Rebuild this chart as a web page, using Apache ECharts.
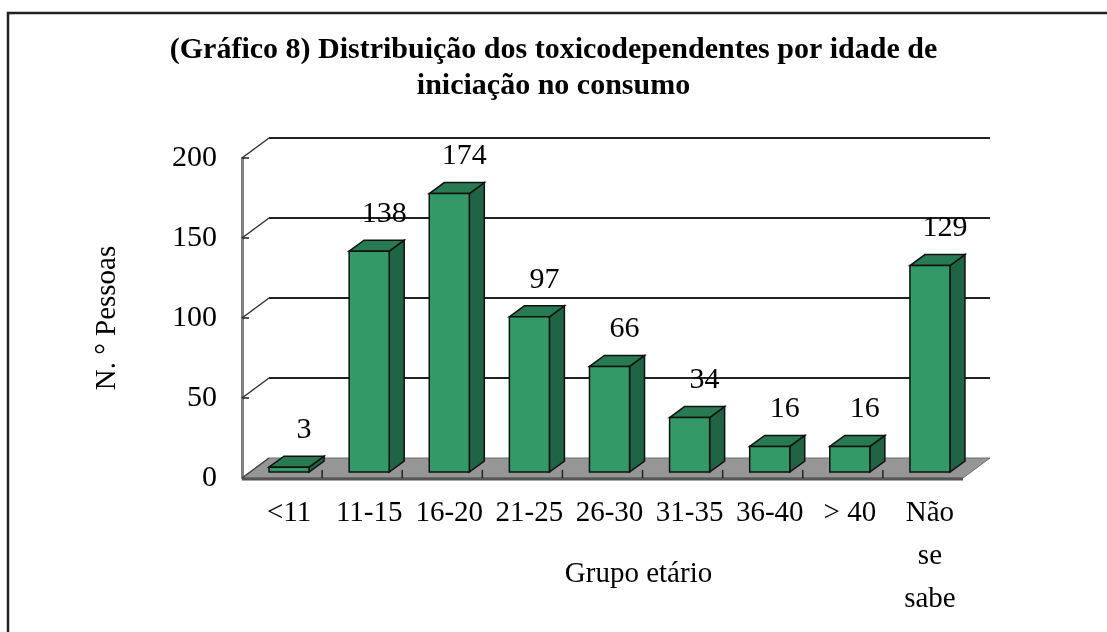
<!DOCTYPE html>
<html>
<head>
<meta charset="utf-8">
<script src="https://cdn.jsdelivr.net/npm/echarts@6/dist/echarts.min.js"></script>
<style>
  html, body { margin: 0; padding: 0; background: #fff; }
  #chart { width: 1107px; height: 632px; }
</style>
</head>
<body>
<div id="chart"></div>
<script>
// dados
var grupos = ['<11', '11-15', '16-20', '21-25', '26-30', '31-35', '36-40', '> 40', 'Não\nse\nsabe'];
var pessoas = [3, 138, 174, 97, 66, 34, 16, 16, 129];
var linhasGrelha = [50, 100, 150, 200];

var fonte = 'Liberation Serif';
// deslocamentos do efeito 3D (plano da frente / parede do fundo / profundidade da barra)
var FRENTE = [-7, 6];
var FUNDO = [20, -14];
var PROF = [15, -11];

var myChart = echarts.init(document.getElementById('chart'));

function chao(params, api) {
    var cs = params.coordSys;
    var y0 = api.coord([0, 0])[1];
    var xl = cs.x, xr = cs.x + cs.width;
    var pts = [
        [xl + FRENTE[0], y0 + FRENTE[1]],
        [xr + FRENTE[0], y0 + FRENTE[1]],
        [xr + FUNDO[0], y0 + FUNDO[1]],
        [xl + FUNDO[0], y0 + FUNDO[1]]
    ];
    var kids = [{
        type: 'polygon',
        shape: { points: pts },
        style: { fill: '#969696', stroke: '#6e6e6e', lineWidth: 1 }
    }, {
        type: 'line',
        shape: { x1: pts[0][0], y1: pts[0][1] + 1, x2: pts[1][0], y2: pts[1][1] + 1 },
        style: { stroke: '#555', lineWidth: 3 }
    }];
    // pequenas marcas entre categorias
    var band = cs.width / grupos.length;
    for (var i = 1; i < grupos.length; i++) {
        var x = xl + band * i + FRENTE[0];
        kids.push({
            type: 'line',
            shape: { x1: x, y1: y0 + FRENTE[1] - 8, x2: x, y2: y0 + FRENTE[1] },
            style: { stroke: '#222', lineWidth: 1.5 }
        });
    }
    // diagonal do zero
    kids.push({
        type: 'line',
        shape: { x1: pts[0][0], y1: pts[0][1], x2: pts[3][0], y2: pts[3][1] },
        style: { stroke: '#444', lineWidth: 1.5 }
    });
    return { type: 'group', children: kids };
}

function grelha(params, api) {
    var cs = params.coordSys;
    var v = api.value(0);
    var y = api.coord([0, v])[1];
    var xl = cs.x, xr = cs.x + cs.width;
    return {
        type: 'group',
        children: [{
            type: 'line',
            shape: { x1: xl + FUNDO[0], y1: y + FUNDO[1], x2: xr + FUNDO[0], y2: y + FUNDO[1] },
            style: { stroke: '#222', lineWidth: 2 }
        }, {
            type: 'line',
            shape: { x1: xl + FRENTE[0], y1: y + FRENTE[1], x2: xl + FUNDO[0], y2: y + FUNDO[1] },
            style: { stroke: '#333', lineWidth: 1.5 }
        }]
    };
}

function barra3d(params, api) {
    var i = api.value(0), v = api.value(1);
    var p = api.coord([i, v]);
    var p0 = api.coord([i, 0]);
    var w = api.size([1, 0])[0] * 0.5;
    var x = p[0] - w / 2, top = p[1], bot = p0[1];
    var dx = PROF[0], dy = PROF[1];
    return {
        type: 'group',
        children: [{
            type: 'polygon',
            shape: { points: [[x + w, top], [x + w + dx, top + dy], [x + w + dx, bot + dy], [x + w, bot]] },
            style: { fill: '#1f6443', stroke: '#111', lineWidth: 1.5 }
        }, {
            type: 'polygon',
            shape: { points: [[x, top], [x + dx, top + dy], [x + w + dx, top + dy], [x + w, top]] },
            style: { fill: '#287a52', stroke: '#111', lineWidth: 1.5 }
        }, {
            type: 'rect',
            shape: { x: x, y: top, width: w, height: bot - top },
            style: { fill: '#339966', stroke: '#111', lineWidth: 1.5 }
        }, {
            type: 'text',
            x: p[0] + 15,
            y: top - 37,
            style: {
                text: String(v),
                fontFamily: fonte,
                fontSize: 30,
                fill: '#000',
                align: 'center',
                verticalAlign: 'middle'
            }
        }]
    };
}

myChart.setOption({
    backgroundColor: '#fff',
    animation: false,
    title: {
        text: '(Gráfico 8) Distribuição dos toxicodependentes por idade de\niniciação no consumo',
        left: 'center',
        top: 27,
        textStyle: {
            fontFamily: fonte,
            fontSize: 30,
            fontWeight: 'bold',
            color: '#000',
            lineHeight: 36
        }
    },
    graphic: [{
        type: 'rect',
        shape: { x: 8, y: 13, width: 1110, height: 640 },
        style: { fill: null, stroke: '#222', lineWidth: 2.5 },
        silent: true
    }],
    grid: [
        // plano das barras
        { left: 249, right: 137, top: 152, bottom: 160, containLabel: false, outerBoundsMode: 'none' },
        // plano da frente (eixo dos valores)
        { left: 242, right: 144, top: 158, bottom: 154, containLabel: false, outerBoundsMode: 'none' }
    ],
    xAxis: [{
        gridIndex: 0,
        type: 'category',
        data: grupos,
        axisLine: { show: false },
        axisTick: { show: false },
        axisLabel: {
            fontFamily: fonte,
            fontSize: 29,
            color: '#000',
            margin: 20,
            lineHeight: 43,
            interval: 0
        },
        name: 'Grupo etário',
        nameLocation: 'middle',
        nameGap: 88,
        nameMoveOverlap: false,
        nameTextStyle: { fontFamily: fonte, fontSize: 29, color: '#000', padding: [0, 0, 0, 58] }
    }, {
        gridIndex: 1,
        type: 'value',
        show: false
    }],
    yAxis: [{
        gridIndex: 0,
        type: 'value',
        min: 0,
        max: 200,
        interval: 50,
        show: false
    }, {
        gridIndex: 1,
        type: 'value',
        min: 0,
        max: 200,
        interval: 50,
        splitLine: { show: false },
        axisLine: { show: true, lineStyle: { color: '#808080', width: 3 } },
        axisTick: { show: true, inside: true, length: 7, lineStyle: { color: '#222', width: 1.5 } },
        axisLabel: {
            fontFamily: fonte,
            fontSize: 30,
            color: '#000',
            margin: 25
        },
        name: 'N. ° Pessoas',
        nameLocation: 'middle',
        nameRotate: 90,
        nameGap: 120,
        nameMoveOverlap: false,
        nameTextStyle: { fontFamily: fonte, fontSize: 29, color: '#000' }
    }],
    series: [{
        type: 'custom',
        xAxisIndex: 0,
        yAxisIndex: 0,
        z: 1,
        renderItem: chao,
        data: [[0, 0]],
        silent: true
    }, {
        type: 'custom',
        xAxisIndex: 0,
        yAxisIndex: 0,
        z: 2,
        renderItem: grelha,
        encode: { y: 0 },
        data: linhasGrelha.map(function (v) { return [v]; }),
        silent: true
    }, {
        type: 'custom',
        xAxisIndex: 0,
        yAxisIndex: 0,
        z: 3,
        renderItem: barra3d,
        encode: { x: 0, y: 1 },
        data: pessoas.map(function (v, i) { return [i, v]; })
    }]
});
</script>
</body>
</html>
